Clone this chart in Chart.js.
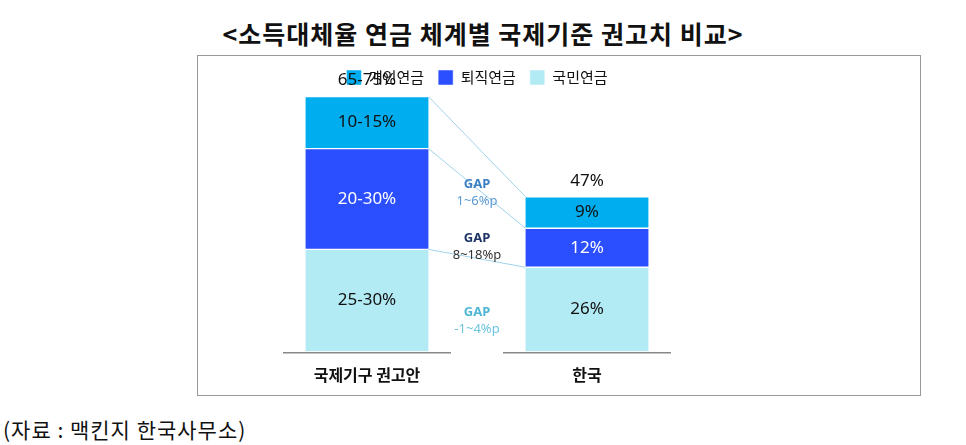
<!DOCTYPE html>
<html><head><meta charset="utf-8">
<script src="https://cdn.jsdelivr.net/npm/chart.js@4"></script>
<style>
body{margin:0;width:966px;height:445px;background:#fff;font-family:"Noto Sans CJK KR","Noto Sans",sans-serif;position:relative;overflow:hidden}
#title{position:absolute;top:16px;left:0;width:966px;text-align:center;font-size:25px;font-weight:bold;color:#111;letter-spacing:1px;line-height:34px}
#box{position:absolute;left:197px;top:55px;width:722px;height:339px;border:1px solid #999}
#src{position:absolute;left:3px;top:414px;font-size:21px;color:#111;letter-spacing:1px}
</style></head><body>
<div id="title">&lt;소득대체율 연금 체계별 국제기준 권고치 비교&gt;</div>
<div id="box"><canvas id="c" width="722" height="339"></canvas></div>
<div id="src">(자료 : 맥킨지 한국사무소)</div>
<script>
const categories=['국제기구 권고안','한국'];
const seriesNames=['국민연금','퇴직연금','개인연금'];
const nationalVals=[31.5,26];
const retireVals=[31,12];
const personalVals=[16,9.7];
const nationalLabels=['25-30%','26%'];
const retireLabels=['20-30%','12%'];
const personalLabels=['10-15%','9%'];
const totalLabels=['65-75%','47%'];
const gapTitles=['GAP','GAP','GAP'];
const gapTexts=['1~6%p','8~18%p','-1~4%p'];
const colors=['#B3EBF5','#2B4EFF','#00AEEF'];
const textColors=['#111','#fff','#111'];
const segLabels=[nationalLabels,retireLabels,personalLabels];
const plug={id:'p',afterDatasetsDraw(ch){
 const ctx=ch.ctx,x=ch.scales.x,y=ch.scales.y;
 const metas=[0,1,2].map(i=>ch.getDatasetMeta(i));
 ctx.save();
 ctx.strokeStyle='#888';ctx.lineWidth=1.5;
 categories.forEach((c,i)=>{const cx=x.getPixelForValue(i);ctx.beginPath();ctx.moveTo(cx-84,y.bottom+1);ctx.lineTo(cx+84,y.bottom+1);ctx.stroke();});
 ctx.strokeStyle='#9fd3ec';ctx.lineWidth=1;
 [2,1,0].forEach(d=>{const a=metas[d].data[0],b=metas[d].data[1];ctx.beginPath();ctx.moveTo(a.x+a.width/2,a.y);ctx.lineTo(b.x-b.width/2,b.y);ctx.stroke();});
 ctx.textAlign='center';ctx.textBaseline='middle';
 ctx.font='17px "Noto Sans","Liberation Sans",sans-serif';
 for(let d=0;d<3;d++)for(let i=0;i<2;i++){const e=metas[d].data[i];ctx.fillStyle=textColors[d];ctx.fillText(segLabels[d][i],e.x,(e.y+e.base)/2);}
 ctx.fillStyle='#111';
 for(let i=0;i<2;i++){const e=metas[2].data[i];ctx.fillText(totalLabels[i],e.x,e.y-16);}
 const gx=(x.getPixelForValue(0)+x.getPixelForValue(1))/2;
 const gy=[128,182,256], gc=['#3d7fc4','#1e3566','#4fb6d4'], gc2=['#5b9ad6','#333','#6cc4de'];
 for(let k=0;k<3;k++){ctx.font='bold 13px "Noto Sans",sans-serif';ctx.fillStyle=gc[k];ctx.fillText(gapTitles[k],gx,gy[k]);
  ctx.font='13px "Noto Sans",sans-serif';ctx.fillStyle=gc2[k];ctx.fillText(gapTexts[k],gx,gy[k]+17);}
 ctx.restore();}};
const dsOpts={barThickness:123,borderColor:'#fff',borderWidth:{top:1,bottom:1},borderSkipped:false};
new Chart(document.getElementById('c'),{type:'bar',
 data:{labels:categories,datasets:[
  Object.assign({label:seriesNames[0],data:nationalVals,backgroundColor:colors[0]},dsOpts),
  Object.assign({label:seriesNames[1],data:retireVals,backgroundColor:colors[1]},dsOpts),
  Object.assign({label:seriesNames[2],data:personalVals,backgroundColor:colors[2]},dsOpts)]},
 options:{responsive:false,animation:false,
  layout:{padding:{left:59,right:223,top:0,bottom:4}},
  plugins:{tooltip:{enabled:false},legend:{reverse:true,labels:{boxWidth:15,boxHeight:15,font:{size:15,family:'"Noto Sans CJK KR"'},color:'#111',padding:14}}},
  scales:{x:{stacked:true,grid:{display:false},border:{display:false},ticks:{color:'#111',font:{size:16,weight:'bold',family:'"Noto Sans CJK KR"'},padding:6}},
   y:{stacked:true,display:false,min:0,max:79}}},
 plugins:[plug]});
</script></body></html>
